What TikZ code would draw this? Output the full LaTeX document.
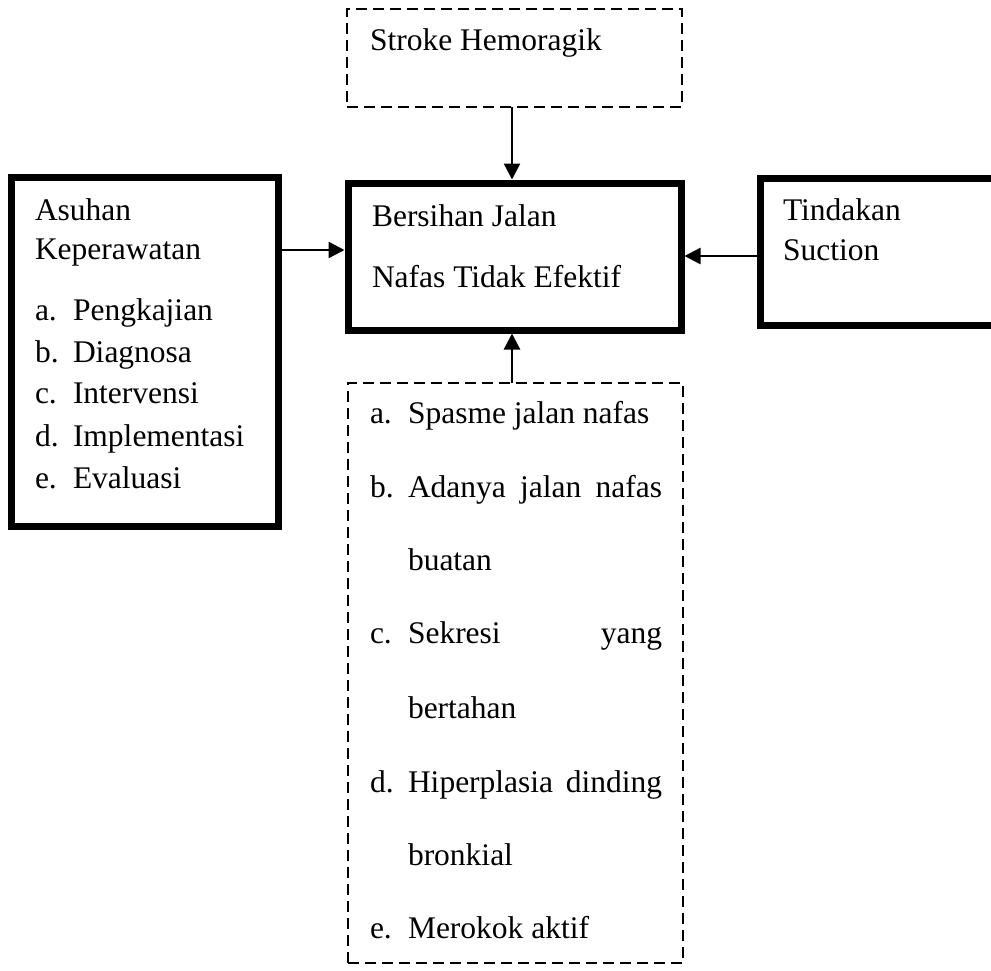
\documentclass[tikz,border=0pt]{standalone}
\usepackage{fontspec}
\setmainfont{Liberation Serif}
\usetikzlibrary{arrows.meta}
\tikzset{
  x=1pt, y=-1pt,
  thickbox/.style={draw, line width=7pt, rectangle, inner sep=0pt, outer sep=0pt},
  dashbox/.style={draw, line width=2.6pt, dash pattern=on 11pt off 6pt, rectangle, inner sep=0pt, outer sep=0pt},
  txt/.style={anchor=base west, inner sep=0pt, outer sep=0pt, font=\fontsize{31.5}{38}\selectfont},
  arr/.style={line width=2.4pt, -{Triangle[length=16pt,width=16pt]}},
}
\begin{document}
\begin{tikzpicture}
\useasboundingbox (0,0) rectangle (991,970);
\clip (0,0) rectangle (991,970);
% boxes
\node[dashbox, minimum width=335pt, minimum height=98pt] (stroke) at (514.5,58) {};
\node[thickbox, minimum width=333pt, minimum height=147pt] (bersihan) at (514.5,256.5) {};
\node[thickbox, minimum width=267pt, minimum height=349pt] (asuhan) at (144.5,351.5) {};
\node[thickbox, minimum width=245pt, minimum height=147pt] (tindakan) at (882.5,251.5) {};
\node[dashbox, minimum width=335pt, minimum height=580pt] (faktor) at (515.5,673) {};
% texts
\node[txt] (t1) at (370,50) {Stroke Hemoragik};
\node[txt] (t2) at (372,226) {Bersihan Jalan};
\node[txt] (t3) at (372,287) {Nafas Tidak Efektif};
\node[txt] (t4) at (35,220) {Asuhan};
\node[txt] (t5) at (35,259) {Keperawatan};
\node[txt] (l1) at (35,320) {a.};
\node[txt] (i1) at (73,320) {Pengkajian};
\node[txt] (l2) at (35,362) {b.};
\node[txt] (i2) at (73,362) {Diagnosa};
\node[txt] (l3) at (35,403) {c.};
\node[txt] (i3) at (73,403) {Intervensi};
\node[txt] (l4) at (35,446) {d.};
\node[txt] (i4) at (73,446) {Implementasi};
\node[txt] (l5) at (35,488) {e.};
\node[txt] (i5) at (73,488) {Evaluasi};
\node[txt] (t6) at (783,220) {Tindakan};
\node[txt] (t7) at (783,260) {Suction};
\node[txt] (fa) at (370,423) {a.};
\node[txt] (fat) at (408,423) {Spasme jalan nafas};
\node[txt] (fb) at (370,497) {b.};
\node[txt] (fbt) at (408,497) {\makebox[254pt][s]{Adanya jalan nafas}};
\node[txt] (fbt2) at (408,570) {buatan};
\node[txt] (fc) at (370,643) {c.};
\node[txt] (fct) at (408,643) {\makebox[254pt][s]{Sekresi yang}};
\node[txt] (fct2) at (408,718) {bertahan};
\node[txt] (fd) at (370,792) {d.};
\node[txt] (fdt) at (408,792) {\makebox[254pt][s]{Hiperplasia dinding}};
\node[txt] (fdt2) at (408,865) {bronkial};
\node[txt] (fe) at (370,938) {e.};
\node[txt] (fet) at (408,938) {Merokok aktif};
% connectors
\coordinate (ax) at (512,0);
\coordinate (ay) at (0,250);
\coordinate (ty) at (0,256);
\draw[arr, shorten >=3.5pt] (stroke.south -| ax) -- (bersihan.north -| ax);
\draw[arr, shorten >=3.5pt] (faktor.north -| ax) -- (bersihan.south -| ax);
\draw[arr, shorten <=3.5pt, shorten >=3.5pt] (asuhan.east |- ay) -- (bersihan.west |- ay);
\draw[arr, shorten <=3.5pt, shorten >=3.5pt] (tindakan.west |- ty) -- (bersihan.east |- ty);
\end{tikzpicture}
\end{document}
